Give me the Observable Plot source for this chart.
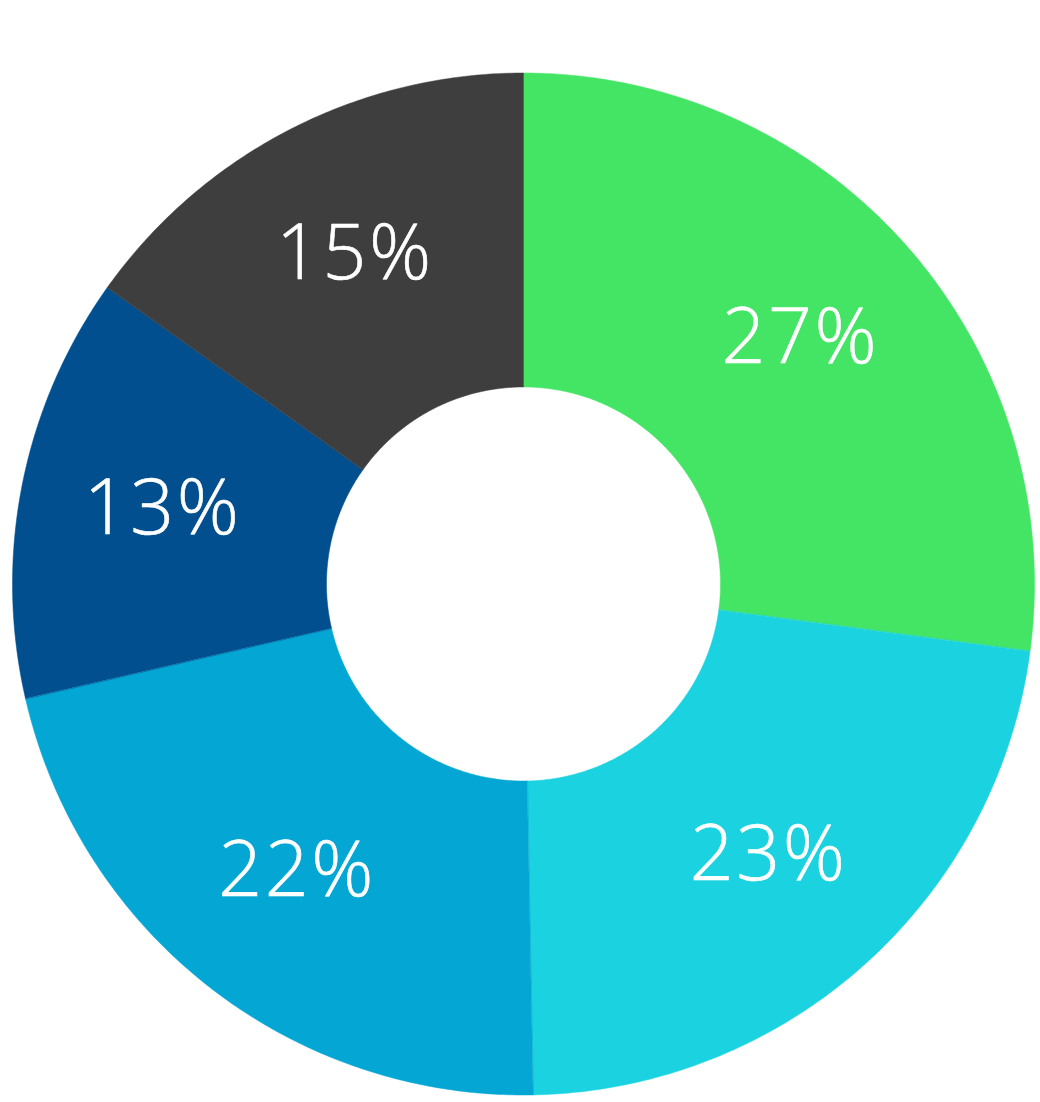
<!DOCTYPE html>
<html>
<head>
<meta charset="utf-8">
<script src="https://cdn.jsdelivr.net/npm/d3@7"></script>
<script src="https://cdn.jsdelivr.net/npm/@observablehq/plot@0.6"></script>
<style>
  html, body { margin: 0; padding: 0; background: #ffffff; }
  #chart svg { display: block; }
  #chart text { letter-spacing: 2.5px; }
</style>
</head>
<body>
<div id="chart"></div>
<script>
// Data
const categories = ["A", "B", "C", "D", "E"];
const values = [27.1, 22.6, 21.7, 13.45, 15.15];
const colors = ["#44E565", "#1BD3E0", "#04A6D4", "#014F8E", "#3E3E3E"];

// Layout
const W = 1040, H = 1102;
const cx = 523, cy = 583.5;
const outerR = 511, innerR = 197, labelR = 368;

const total = d3.sum(values);
const slices = [];
let acc = 0;
categories.forEach((c, i) => {
  const a0 = acc / total * 2 * Math.PI;
  acc += values[i];
  const a1 = acc / total * 2 * Math.PI;
  slices.push({key: c, value: values[i], a0, a1});
});

// polygon points for each slice (angle measured clockwise from top)
const pts = [];
for (const s of slices) {
  const n = Math.max(8, Math.ceil((s.a1 - s.a0) * 120));
  for (let k = 0; k <= n; k++) {
    const a = s.a0 + (s.a1 - s.a0) * k / n;
    pts.push({key: s.key, x: outerR * Math.sin(a), y: -outerR * Math.cos(a)});
  }
  for (let k = n; k >= 0; k--) {
    const a = s.a0 + (s.a1 - s.a0) * k / n;
    pts.push({key: s.key, x: innerR * Math.sin(a), y: -innerR * Math.cos(a)});
  }
}

const labels = slices.map(s => {
  const m = (s.a0 + s.a1) / 2;
  return {key: s.key, text: Math.round(s.value / total * 100) + "%", x: labelR * Math.sin(m), y: -labelR * Math.cos(m)};
});

const chart = Plot.plot({
  width: W,
  height: H,
  margin: 0,
  x: {type: "linear", domain: [-cx, W - cx], range: [0, W], axis: null},
  y: {type: "linear", domain: [-cy, H - cy], range: [0, H], axis: null},
  color: {domain: categories, range: colors},
  style: {background: "#ffffff"},
  marks: [
    Plot.line(pts, {x: "x", y: "y", z: "key", fill: "key", stroke: "key", strokeWidth: 0.5, curve: "linear-closed"}),
    Plot.text(labels, {x: "x", y: "y", dy: -3, text: "text", fill: "white", stroke: "white", strokeWidth: 0.6, fontSize: 77, fontWeight: 300, fontFamily: "'Open Sans', sans-serif"})
  ]
});
document.getElementById("chart").appendChild(chart);
</script>
</body>
</html>
